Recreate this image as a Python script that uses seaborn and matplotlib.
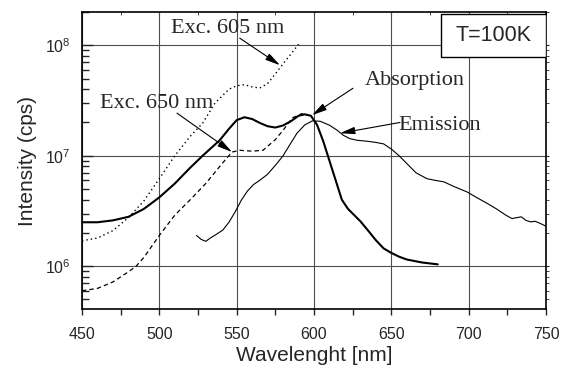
import numpy as np
import pandas as pd
import matplotlib
matplotlib.use("Agg")
import matplotlib.pyplot as plt
import seaborn as sns
from matplotlib.ticker import LogLocator, MultipleLocator, NullFormatter, FixedLocator
from matplotlib.patches import Rectangle

# ---------------- data ----------------
abs_x = [450, 460, 470, 480, 490, 500, 510, 520, 528, 539, 545, 550, 555, 560, 565,
         570, 575, 580, 585, 590, 594, 598, 602, 606, 610, 614, 618, 622, 626, 630,
         635, 640, 645, 650, 655, 660, 670, 680]
abs_y = [2.5e6, 2.5e6, 2.6e6, 2.8e6, 3.3e6, 4.2e6, 5.6e6, 7.8e6, 1.0e7, 1.38e7, 1.75e7,
         2.1e7, 2.23e7, 2.15e7, 1.98e7, 1.85e7, 1.8e7, 1.88e7, 2.05e7, 2.3e7, 2.37e7,
         2.3e7, 1.9e7, 1.35e7, 9.0e6, 6.0e6, 4.0e6, 3.3e6, 2.9e6, 2.55e6, 2.1e6, 1.72e6,
         1.45e6, 1.32e6, 1.22e6, 1.15e6, 1.08e6, 1.04e6]

exc605_x = [450, 460, 470, 480, 490, 500, 510, 520, 528, 536, 545, 550, 555, 560, 565,
            570, 575, 580, 585, 590]
exc605_y = [1.7e6, 1.8e6, 2.1e6, 2.75e6, 3.9e6, 6.2e6, 1.0e7, 1.5e7, 1.97e7, 3.0e7, 4.0e7,
            4.3e7, 4.4e7, 4.2e7, 4.1e7, 4.5e7, 5.5e7, 6.8e7, 8.3e7, 1.02e8]

exc650_x = [450, 460, 470, 480, 485, 490, 500, 510, 520, 530, 540, 547, 552, 560, 567,
            575, 580, 586, 592, 596]
exc650_y = [6.0e5, 6.3e5, 7.2e5, 8.9e5, 1.0e6, 1.2e6, 1.9e6, 2.9e6, 4.0e6, 5.6e6, 8.3e6,
            1.08e7, 1.12e7, 1.1e7, 1.12e7, 1.4e7, 1.7e7, 2.2e7, 2.4e7, 2.35e7]

em_x = [524, 527, 530, 533, 537, 541, 545, 549, 553, 557, 561, 565, 570, 576, 580, 585,
        589, 594, 599, 604, 610, 615, 619, 623, 628, 635, 640, 645, 650, 655, 660, 666,
        673, 678, 684, 690, 699, 705, 712, 718, 724, 728, 731, 734, 737, 740, 743, 746, 750]
em_y = [1.9e6, 1.75e6, 1.68e6, 1.8e6, 1.95e6, 2.12e6, 2.5e6, 3.1e6, 3.96e6, 4.8e6, 5.5e6,
        6.0e6, 6.8e6, 8.5e6, 1.0e7, 1.3e7, 1.6e7, 1.9e7, 2.07e7, 2.05e7, 1.89e7, 1.7e7,
        1.53e7, 1.43e7, 1.38e7, 1.35e7, 1.32e7, 1.28e7, 1.15e7, 1.0e7, 8.5e6, 7.0e6,
        6.2e6, 6.0e6, 5.8e6, 5.3e6, 4.7e6, 4.2e6, 3.7e6, 3.3e6, 2.9e6, 2.7e6, 2.75e6,
        2.8e6, 2.6e6, 2.52e6, 2.55e6, 2.45e6, 2.3e6]

x_ticks = [450, 500, 550, 600, 650, 700, 750]
y_ticks = [1e6, 1e7, 1e8]
y_tick_labels = ["$10^{6}$", "$10^{7}$", "$10^{8}$"]

# ---------------- style ----------------
sns.set_style("ticks")
plt.rcParams["font.family"] = ["Liberation Sans", "DejaVu Sans"]
plt.rcParams["mathtext.fontset"] = "custom"
plt.rcParams["mathtext.rm"] = "Liberation Sans"
plt.rcParams["mathtext.it"] = "Liberation Sans:italic"
plt.rcParams["mathtext.bf"] = "Liberation Sans:bold"
plt.rcParams["mathtext.default"] = "regular"

fig = plt.figure(figsize=(5.61, 3.65), dpi=100)
ax = fig.add_axes([82 / 561, 56 / 365, 464 / 561, 297 / 365])

sns.lineplot(x=abs_x, y=abs_y, ax=ax, color="black", lw=1.5, sort=False)
sns.lineplot(x=exc605_x, y=exc605_y, ax=ax, color="black", lw=1.0,
             linestyle=(0, (1, 2.2)), sort=False)
sns.lineplot(x=exc650_x, y=exc650_y, ax=ax, color="black", lw=0.9,
             linestyle=(0, (3.5, 2.5)), sort=False)
sns.lineplot(x=em_x, y=em_y, ax=ax, color="black", lw=0.8, sort=False)

ax.set_yscale("log")
ax.set_xlim(450, 750)
ax.set_ylim(4.1e5, 2.0e8)

ax.xaxis.set_major_locator(FixedLocator(x_ticks))
ax.xaxis.set_minor_locator(MultipleLocator(25))
ax.set_xticklabels([str(v) for v in x_ticks])
ax.yaxis.set_major_locator(FixedLocator(y_ticks))
ax.set_yticklabels(y_tick_labels)
ax.yaxis.set_minor_locator(LogLocator(base=10, subs=np.arange(2, 10)))
ax.yaxis.set_minor_formatter(NullFormatter())

ax.tick_params(axis="x", which="major", direction="out", length=4, width=1,
               labelsize=11.5, pad=9)
ax.tick_params(axis="x", which="minor", direction="out", length=4, width=1)
ax.tick_params(axis="y", which="major", direction="in", length=8, width=1,
               labelsize=11.5, pad=8)
ax.tick_params(axis="y", which="minor", direction="in", length=5, width=1)

for s in ax.spines.values():
    s.set_linewidth(1.2)
    s.set_color("black")

ax.grid(True, which="major", axis="both", color="0.3", lw=0.8)

# small ticks on top (inward) and right (outward)
top = ax.secondary_xaxis("top")
top.xaxis.set_major_locator(FixedLocator(x_ticks))
top.xaxis.set_minor_locator(MultipleLocator(25))
top.tick_params(which="both", direction="in", length=2, labeltop=False)
top.spines["top"].set_visible(False)
right = ax.secondary_yaxis("right")
right.yaxis.set_major_locator(FixedLocator(y_ticks))
right.yaxis.set_minor_locator(LogLocator(base=10, subs=np.arange(2, 10)))
right.yaxis.set_minor_formatter(NullFormatter())
right.tick_params(which="both", direction="out", length=2, labelright=False)
right.spines["right"].set_visible(False)

ax.set_xlabel("Wavelenght [nm]", fontsize=15, labelpad=3)
ax.set_ylabel("Intensity (cps)", fontsize=15, labelpad=6)

# annotations
serif = ["Liberation Serif", "DejaVu Serif"]
arw = dict(arrowstyle="-|>,head_length=0.9,head_width=0.22", lw=0.8, color="black",
           shrinkA=0, shrinkB=0)
ax.text(544, 1.43e8, "Exc. 605 nm", family=serif, fontsize=16, ha="center", va="center")
ax.annotate("", xy=(578, 6.6e7), xytext=(552, 1.16e8), arrowprops=arw)
ax.text(498.5, 2.98e7, "Exc. 650 nm", family=serif, fontsize=16, ha="center", va="center")
ax.annotate("", xy=(547, 1.08e7), xytext=(511.4, 2.43e7), arrowprops=arw)
ax.text(665.3, 4.8e7, "Absorption", family=serif, fontsize=16, ha="center", va="center")
ax.annotate("", xy=(598.7, 2.33e7), xytext=(625.2, 4.08e7), arrowprops=arw)
ax.text(681.4, 1.89e7, "Emission", family=serif, fontsize=16, ha="center", va="center")
ax.annotate("", xy=(616.8, 1.6e7), xytext=(655.6, 2.0e7), arrowprops=arw)

# T=100K box
ax.add_patch(Rectangle((0.774, 0.848), 0.226, 0.145, transform=ax.transAxes,
                       facecolor="white", edgecolor="black", lw=1.0, zorder=5))
ax.text(0.887, 0.92, "T=100K", transform=ax.transAxes, fontsize=15.5,
        ha="center", va="center", zorder=6)

fig.savefig("out.png", dpi=100)
